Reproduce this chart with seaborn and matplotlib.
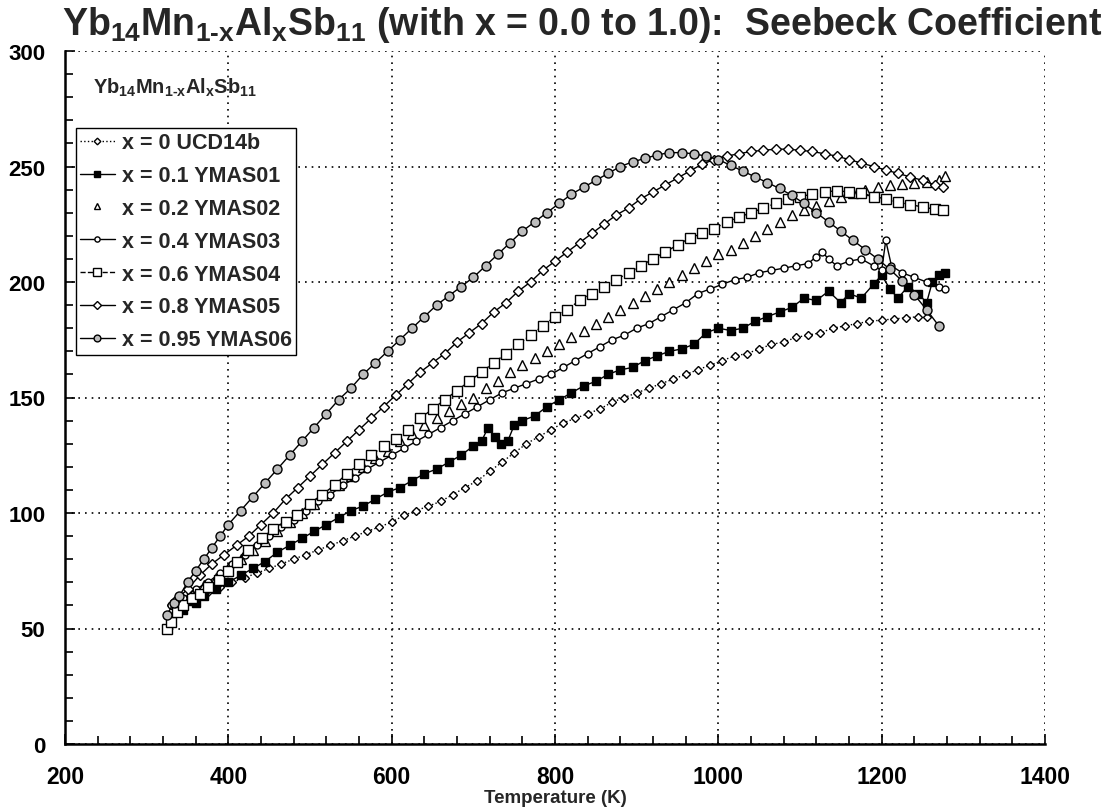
import matplotlib
matplotlib.use("Agg")
import matplotlib.pyplot as plt
import seaborn as sns
from matplotlib.ticker import MultipleLocator

# ---------------- data ----------------
T_x000 = [330, 345, 360, 375, 390, 405, 420, 435, 450, 465, 480, 495, 510, 525, 540, 555, 570, 585,
          600, 615, 630, 645, 660, 675, 690, 705, 720, 735, 750, 765, 780, 795, 810, 825, 840, 855,
          870, 885, 900, 915, 930, 945, 960, 975, 990, 1005, 1020, 1035, 1050, 1065, 1080, 1095,
          1110, 1125, 1140, 1155, 1170, 1185, 1200, 1215, 1230, 1245, 1255]
S_x000 = [60, 62, 64, 66, 68, 70, 72, 74, 76, 78, 80, 82, 84, 86, 88, 90, 92, 94,
          96, 99, 101, 103, 105, 108, 111, 114, 118, 122, 126, 130, 133, 136, 139, 141, 143, 145,
          148, 150, 152, 154, 156, 158, 160, 162, 164, 166, 168, 169, 171, 173, 174, 176,
          177, 178, 180, 181, 182, 183, 183.5, 184, 184.5, 185, 185]

T_x010 = [330, 337, 345, 352, 360, 370, 385, 400, 415, 430, 445, 460, 475, 490, 505, 520, 535, 550,
          565, 580, 595, 610, 625, 640, 655, 670, 685, 700, 710, 718, 726, 734, 742, 750, 760, 775,
          790, 805, 820, 835, 850, 865, 880, 895, 910, 925, 940, 955, 970, 985, 1000, 1015, 1030,
          1045, 1060, 1075, 1090, 1105, 1120, 1135, 1150, 1160, 1175, 1190, 1200, 1210, 1220, 1232,
          1245, 1255, 1262, 1270, 1277]
S_x010 = [55, 60, 58, 62, 61, 64, 67, 70, 73, 76, 79, 83, 86, 89, 92, 95, 98, 101,
          103, 106, 109, 111, 114, 117, 119, 122, 125, 129, 131, 137, 133, 130, 131, 138, 140, 142,
          146, 149, 152, 155, 157, 160, 162, 163, 166, 168, 170, 171, 173, 178, 180, 179, 180,
          183, 185, 187, 189, 193, 192, 196, 191, 195, 193, 199, 203, 197, 193, 198,
          195, 191, 200, 203, 204]

T_x020 = [340, 355, 370, 385, 400, 415, 430, 445, 460, 475, 490, 505, 520, 535, 550, 565, 580, 595,
          610, 625, 640, 655, 670, 685, 700, 715, 730, 745, 760, 775, 790, 805, 820, 835, 850, 865,
          880, 895, 910, 925, 940, 955, 970, 985, 1000, 1015, 1030, 1045, 1060, 1075, 1090, 1105,
          1120, 1135, 1150, 1165, 1180, 1195, 1210, 1225, 1240, 1255, 1270, 1277]
S_x020 = [62, 65, 69, 72, 76, 80, 84, 88, 92, 96, 100, 104, 108, 112, 116, 120, 124, 127,
          131, 134, 138, 141, 144, 147, 150, 154, 157, 161, 164, 167, 170, 173, 176, 179, 182, 185,
          188, 191, 194, 197, 200, 203, 206, 209, 212, 214, 217, 220, 223, 226, 229, 231,
          233, 235, 237, 238.5, 240, 241, 242, 242.5, 243, 243.5, 244, 246]

T_x040 = [330, 345, 360, 375, 390, 405, 420, 435, 450, 465, 480, 495, 510, 525, 540, 555, 570, 585,
          600, 615, 630, 645, 660, 675, 690, 705, 720, 735, 750, 765, 780, 795, 810, 825, 840, 855,
          870, 885, 900, 915, 930, 945, 960, 975, 990, 1005, 1020, 1035, 1050, 1065, 1080, 1095,
          1110, 1120, 1127, 1135, 1145, 1160, 1175, 1190, 1200, 1205, 1212, 1225, 1240, 1255, 1270, 1278]
S_x040 = [60, 63, 67, 70, 74, 78, 82, 86, 90, 94, 97, 101, 105, 108, 112, 115, 119, 122,
          125, 128, 131, 134, 137, 140, 143, 146, 149, 152, 154, 156, 158, 160, 163, 166, 169, 172,
          175, 177, 180, 182, 185, 188, 191, 195, 197, 199, 201, 202, 204, 205, 206, 207,
          208, 211, 213, 210, 207, 209, 210, 207, 205, 218, 207, 204, 202, 200, 198, 197]

T_x060 = [325, 330, 337, 345, 355, 365, 375, 388, 400, 410, 424, 441, 455, 470, 484, 500, 515, 530,
          545, 560, 575, 590, 605, 620, 635, 650, 665, 680, 695, 710, 725, 740, 755, 770, 785, 800,
          815, 830, 845, 860, 875, 890, 905, 920, 935, 950, 965, 980, 995, 1010, 1025, 1040, 1055,
          1070, 1085, 1100, 1115, 1130, 1145, 1160, 1175, 1190, 1205, 1220, 1235, 1250, 1265, 1275]
S_x060 = [50, 53, 57, 60, 63, 65, 68, 71, 75, 79, 84, 89, 93, 96, 99, 104, 108, 112,
          117, 121, 125, 129, 132, 136, 141, 145, 149, 153, 157, 161, 165, 169, 173, 177, 181, 185,
          188, 192, 195, 198, 201, 204, 207, 210, 213, 216, 219, 221, 223, 226, 228, 230, 232,
          234, 236, 237, 238, 239, 239.5, 239, 238.5, 237, 236, 234.5, 233.5, 232.5, 231.5, 231]

T_x080 = [335, 350, 365, 380, 395, 410, 425, 440, 455, 470, 485, 500, 515, 530, 545, 560, 575, 590,
          605, 620, 635, 650, 665, 680, 695, 710, 725, 740, 755, 770, 785, 800, 815, 830, 845, 860,
          875, 890, 905, 920, 935, 950, 965, 980, 995, 1010, 1025, 1040, 1055, 1070, 1085, 1100,
          1115, 1130, 1145, 1160, 1175, 1190, 1205, 1220, 1235, 1250, 1265, 1275]
S_x080 = [62, 67, 73, 78, 82, 86, 90, 95, 100, 106, 111, 116, 121, 126, 131, 136, 141, 146,
          151, 156, 161, 165, 169, 174, 178, 182, 187, 191, 196, 200, 205, 209, 213, 217, 221, 225,
          229, 232, 236, 239, 242, 245, 248, 251, 253, 254.5, 255.5, 256.5, 257, 257.5, 257.5, 257,
          256.5, 255.5, 254.5, 253, 251.5, 250, 248.5, 247, 245.5, 244, 242, 241]

T_x095 = [325, 333, 340, 350, 360, 370, 380, 390, 400, 415, 430, 445, 460, 475, 490, 505, 520, 535,
          550, 565, 580, 595, 610, 625, 640, 655, 670, 685, 700, 715, 730, 745, 760, 775, 790, 805,
          820, 835, 850, 865, 880, 895, 910, 925, 940, 955, 970, 985, 1000, 1015, 1030, 1045, 1060,
          1075, 1090, 1105, 1120, 1135, 1150, 1165, 1180, 1195, 1210, 1225, 1240, 1255, 1270]
S_x095 = [56, 61, 64, 70, 75, 80, 85, 90, 95, 101, 107, 113, 119, 125, 131, 137, 143, 149,
          154, 160, 165, 170, 175, 180, 185, 190, 194, 198, 202, 207, 212, 217, 222, 226, 230, 234,
          238, 241, 244, 247, 250, 252, 253.5, 255, 256, 256, 255.5, 254.5, 253, 250.5, 248, 245.5, 243,
          240.5, 237.5, 234, 230, 226, 222, 218, 214, 210, 205.5, 200.5, 194.5, 188, 181]

labels = ["x = 0 UCD14b", "x = 0.1 YMAS01", "x = 0.2 YMAS02", "x = 0.4 YMAS03",
          "x = 0.6 YMAS04", "x = 0.8 YMAS05", "x = 0.95 YMAS06"]
x_ticks = [200, 400, 600, 800, 1000, 1200, 1400]
y_ticks = [0, 50, 100, 150, 200, 250, 300]

series = [
    (T_x000, S_x000, dict(marker="D", markersize=4.5, markerfacecolor="white", linestyle=":", linewidth=1.0)),
    (T_x010, S_x010, dict(marker="s", markersize=6, markerfacecolor="black", linestyle="-", linewidth=1.0)),
    (T_x020, S_x020, dict(marker="^", markersize=6.5, markerfacecolor="white", linestyle="None", linewidth=1.0)),
    (T_x040, S_x040, dict(marker="o", markersize=5, markerfacecolor="white", linestyle="-", linewidth=1.0)),
    (T_x060, S_x060, dict(marker="s", markersize=7, markerfacecolor="white", linestyle="--", linewidth=1.0)),
    (T_x080, S_x080, dict(marker="D", markersize=5.5, markerfacecolor="white", linestyle="-", linewidth=1.0)),
    (T_x095, S_x095, dict(marker="o", markersize=6.5, markerfacecolor="#bdbdbd", linestyle="-", linewidth=1.0)),
]

# ---------------- style ----------------
sns.set_theme(style="white")
plt.rcParams["font.family"] = ["Liberation Sans", "DejaVu Sans"]
plt.rcParams["font.weight"] = "bold"
plt.rcParams["mathtext.fontset"] = "custom"
plt.rcParams["mathtext.rm"] = "Liberation Sans:bold"
plt.rcParams["mathtext.it"] = "Liberation Sans:bold"
plt.rcParams["mathtext.bf"] = "Liberation Sans:bold"

fig = plt.figure(figsize=(11.17, 8.12), dpi=100)
ax = fig.add_axes([65 / 1117, 67 / 812, 980 / 1117, 693 / 812])

for (T, S, kw), lab in zip(series, labels):
    sns.lineplot(x=T, y=S, ax=ax, color="black", markeredgecolor="black",
                 markeredgewidth=1.0, sort=False, estimator=None, label=lab, **kw)

ax.set_xlim(200, 1400)
ax.set_ylim(0, 300)
ax.set_xticks(x_ticks)
ax.set_yticks(y_ticks)
ax.xaxis.set_minor_locator(MultipleLocator(40))
ax.yaxis.set_minor_locator(MultipleLocator(10))

ax.grid(True, which="major", color="black", linestyle=(0, (1, 3)), linewidth=1.2)
for s in ["top", "right"]:
    ax.spines[s].set_visible(False)
for s in ["left", "bottom"]:
    ax.spines[s].set_color("black")
    ax.spines[s].set_linewidth(1.8)

ax.tick_params(axis="both", which="both", direction="in", colors="black",
               left=True, bottom=True, top=False, right=False, width=1.2)
ax.tick_params(axis="both", which="major", length=7)
ax.tick_params(axis="both", which="minor", length=6)
ax.tick_params(axis="y", labelsize=16, pad=14)
ax.tick_params(axis="x", labelsize=16.5, pad=15)
for t in ax.get_xticklabels() + ax.get_yticklabels():
    t.set_fontweight("bold")

ax.set_xlabel("Temperature (K)", fontsize=13.5, fontweight="bold", labelpad=1)
ax.set_ylabel("")

handles, labs = ax.get_legend_handles_labels()
leg = ax.legend(handles, labs, loc="upper left", bbox_to_anchor=(0.011, 0.889),
                frameon=True, fancybox=False, edgecolor="black", framealpha=1,
                prop={"weight": "bold", "size": 15.5}, labelspacing=0.55,
                handlelength=1.6, handletextpad=0.35, borderpad=0.2,
                borderaxespad=0, markerscale=0.75)
leg.get_frame().set_linewidth(1.0)

ax.text(0.029, 0.948, r"Yb$_{14}$Mn$_{1\text{-}x}$Al$_{x}$Sb$_{11}$", transform=ax.transAxes,
        fontsize=14.5, fontweight="bold", va="center", ha="left")

fig.text(582 / 1117, 1 - 35 / 812,
         r"Yb$_{14}$Mn$_{1\text{-}x}$Al$_{x}$Sb$_{11}$ (with x = 0.0 to 1.0):  Seebeck Coefficient",
         fontsize=27, fontweight="bold", ha="center", va="baseline")

fig.savefig("out.png", dpi=100)
